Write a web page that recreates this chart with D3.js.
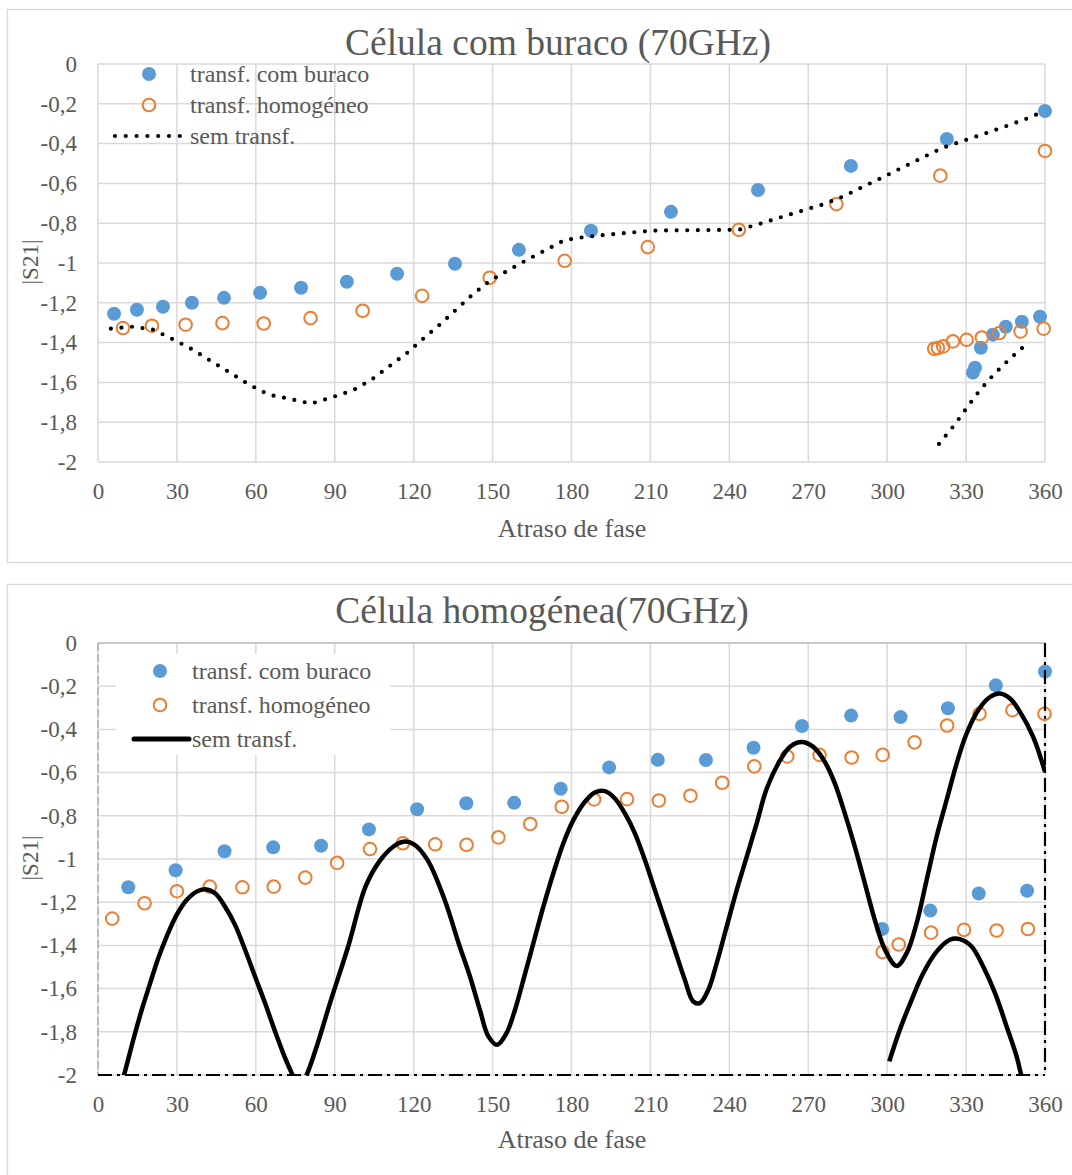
<!DOCTYPE html>
<html lang="pt">
<head>
<meta charset="UTF-8">
<title>|S21| vs atraso de fase</title>
<script src="https://cdn.jsdelivr.net/npm/d3@7"></script>
<style>
  body { margin: 0; background: #fff; }
  text { font-family: "Liberation Serif", "Times New Roman", serif; fill: #595959; }
</style>
</head>
<body>
<script>

// ---- eixos comuns
var xTicks = [0, 30, 60, 90, 120, 150, 180, 210, 240, 270, 300, 330, 360];
var yTicks = [0, -0.2, -0.4, -0.6, -0.8, -1, -1.2, -1.4, -1.6, -1.8, -2];
var seriesNames = ["transf. com buraco", "transf. homogéneo", "sem transf."];

// ---- Célula com buraco (70GHz)
var buracoBlueX = [6.1, 14.8, 24.7, 35.7, 47.9, 61.6, 77.2, 94.6, 113.7, 135.7, 160.0, 187.4, 217.8, 250.9, 286.2, 322.7, 360,
                   332.6, 333.4, 335.6, 340.2, 345.1, 351.2, 358.1];
var buracoBlueY = [-1.255, -1.235, -1.220, -1.200, -1.175, -1.150, -1.124, -1.094, -1.054, -1.004, -0.934, -0.838, -0.743, -0.633, -0.512, -0.377, -0.236,
                   -1.551, -1.526, -1.426, -1.360, -1.320, -1.295, -1.270];
var buracoOrangeX = [9.5, 20.5, 33.3, 47.3, 63.0, 80.8, 100.6, 123.2, 148.9, 177.4, 209.0, 243.6, 280.7, 320.2, 360,
                     317.9, 319.3, 321.3, 325.0, 330.2, 336.0, 342.6, 350.7, 359.5];
var buracoOrangeY = [-1.327, -1.315, -1.310, -1.302, -1.304, -1.277, -1.240, -1.165, -1.074, -0.989, -0.920, -0.833, -0.704, -0.561, -0.437,
                     -1.431, -1.427, -1.419, -1.394, -1.386, -1.374, -1.352, -1.344, -1.330];
var buracoLineX = [4.9, 13.2, 20.9, 28.9, 36.1, 43.3, 50.2, 57.4, 65.0, 73.0, 81.0, 88.9, 96.9, 103.8, 110.6, 117.5, 123.5, 130.0,
                   136.1, 142.2, 148.6, 155.8, 163.1, 177.5, 185.9, 198.4, 211.0, 243.6, 251.9, 259.6, 268.0, 276.0, 283.2,
                   290.8, 298.4, 305.6, 313.2, 320.8, 328.4, 336.4, 344.4, 352.0, 360];
var buracoLineY = [-1.330, -1.320, -1.335, -1.386, -1.436, -1.496, -1.551, -1.611, -1.662, -1.683, -1.707, -1.675, -1.640, -1.588, -1.520, -1.452, -1.382, -1.309,
                   -1.235, -1.161, -1.093, -1.038, -0.984, -0.884, -0.868, -0.852, -0.837, -0.833, -0.802, -0.770, -0.736, -0.704, -0.666,
                   -0.617, -0.569, -0.521, -0.472, -0.423, -0.388, -0.353, -0.316, -0.280, -0.236];
var buracoLine2X = [319.7, 325.4, 330.3, 335.3, 340.9, 347.0, 352.7];
var buracoLine2Y = [-1.909, -1.817, -1.727, -1.638, -1.555, -1.477, -1.411];

// ---- Célula homogénea (70GHz)
var homogBlueX = [11.5, 29.5, 48.1, 66.6, 84.8, 103.0, 121.3, 140.0, 158.2, 175.9, 194.3, 212.8, 231.1, 249.2, 267.6, 286.3, 305.1, 323.1, 341.3, 360,
                  298.1, 316.4, 334.8, 353.2];
var homogBlueY = [-1.131, -1.052, -0.964, -0.946, -0.939, -0.863, -0.770, -0.742, -0.740, -0.675, -0.576, -0.541, -0.542, -0.485, -0.384, -0.336, -0.343, -0.302, -0.196, -0.132,
                  -1.324, -1.239, -1.160, -1.147];
var homogOrangeX = [5.4, 17.7, 30.0, 42.5, 54.9, 66.8, 78.8, 90.9, 103.4, 115.9, 128.2, 140.1, 152.2, 164.3, 176.3, 188.6, 201.1, 213.2,
                    225.2, 237.3, 249.5, 262.0, 274.3, 286.5, 298.3, 310.4, 322.8, 335.1, 347.6, 359.8,
                    298.3, 304.4, 316.7, 329.2, 341.6, 353.5];
var homogOrangeY = [-1.276, -1.205, -1.149, -1.128, -1.131, -1.128, -1.086, -1.018, -0.954, -0.927, -0.932, -0.934, -0.900, -0.838, -0.758, -0.724, -0.723, -0.729,
                    -0.707, -0.647, -0.571, -0.525, -0.518, -0.530, -0.518, -0.460, -0.382, -0.328, -0.311, -0.328,
                    -1.431, -1.396, -1.341, -1.328, -1.331, -1.324];
var homogLineX = [7.5, 9.9, 13.4, 16.6, 19.8, 22.9, 26.1, 29.9, 33.7, 37.5, 40.7, 44.5, 48.3, 52.1, 55.9, 59.7, 63.5, 67.3, 71.1, 73.6, 76.5,
                  79.3, 83.1, 88.2, 95.1, 101.7, 106.9, 112.2, 116.1, 120.0, 125.3, 131.8, 137.1, 141.4, 145.2, 148.4, 151.8, 155.3,
                  158.5, 161.7, 165.5, 169.3, 173.1, 176.9, 180.7, 185.1, 188.9, 192.7, 196.5, 200.3, 204.1, 207.9, 211.7, 215.5,
                  219.3, 223.1, 226.3, 228.8, 232.0, 235.2, 239.0, 242.8, 246.6, 250.4, 254.2, 259.2, 263.0, 267.5, 271.9, 276.3,
                  280.1, 283.9, 287.7, 291.5, 295.3, 299.2, 303.6, 307.4, 311.2, 315.0, 318.8, 322.6, 326.4, 330.2, 334.6, 339.1,
                  342.8, 346.7, 350.5, 355.5, 360];
var homogLineY = [-2.1, -2.0, -1.838, -1.699, -1.576, -1.459, -1.359, -1.259, -1.190, -1.151, -1.140, -1.159, -1.221, -1.305, -1.420, -1.544, -1.667, -1.798, -1.921, -1.990, -2.06,
                  -2.0, -1.869, -1.667, -1.405, -1.128, -1.012, -0.943, -0.920, -0.931, -1.005, -1.190, -1.390, -1.544, -1.700, -1.821, -1.860, -1.806,
                  -1.699, -1.560, -1.390, -1.221, -1.066, -0.927, -0.820, -0.735, -0.692, -0.686, -0.720, -0.789, -0.881, -1.005, -1.144, -1.282,
                  -1.421, -1.560, -1.660, -1.667, -1.606, -1.482, -1.313, -1.144, -0.990, -0.835, -0.675, -0.545, -0.481, -0.458, -0.481, -0.550,
                  -0.650, -0.789, -0.943, -1.112, -1.282, -1.421, -1.495, -1.436, -1.297, -1.097, -0.897, -0.727, -0.558, -0.419, -0.311, -0.250,
                  -0.234, -0.257, -0.319, -0.435, -0.596];
var homogLine2X = [300.8, 304.8, 309.3, 313.7, 318.8, 323.8, 327.6, 332.1, 336.5, 341.0, 345.4, 349.2, 351.1, 352.5];
var homogLine2Y = [-1.937, -1.791, -1.652, -1.529, -1.429, -1.374, -1.371, -1.405, -1.498, -1.621, -1.775, -1.914, -2.006, -2.06];

function zip(xs, ys) {
    return xs.map(function (x, i) { return [x, ys[i]]; });
}

function fmt(v) {
    if (Math.abs(v) < 1e-9) return "0";
    return String(+v.toFixed(1)).replace(".", ",");
}

var W = 1072, H = 1175;
var blue = "#5B9BD5", orange = "#ED7D31";

var svg = d3.select("body").append("svg")
    .attr("width", W)
    .attr("height", H);

svg.append("rect").attr("width", W).attr("height", H).attr("fill", "#fff");

function drawChart(c) {
    var g = svg.append("g");

    // moldura do gráfico
    g.append("rect")
        .attr("x", 7.5).attr("y", c.boxY + 0.5)
        .attr("width", W + 20).attr("height", c.boxH)
        .attr("fill", "#fff").attr("stroke", "#d9d9d9").attr("stroke-width", 1.3);

    var x = d3.scaleLinear().domain([0, 360]).range([98, 1045]);
    var y = d3.scaleLinear().domain([-2, 0]).range([c.yBottom, c.yTop]);

    // grelha
    g.append("g").selectAll("line").data(xTicks).enter().append("line")
        .attr("x1", function (d) { return x(d); }).attr("x2", function (d) { return x(d); })
        .attr("y1", y(0)).attr("y2", y(-2))
        .attr("stroke", "#d9d9d9").attr("stroke-width", 1.5);
    g.append("g").selectAll("line").data(yTicks).enter().append("line")
        .attr("x1", x(0)).attr("x2", x(360))
        .attr("y1", function (d) { return y(d); }).attr("y2", function (d) { return y(d); })
        .attr("stroke", "#d9d9d9").attr("stroke-width", 1.5);

    if (c.dashBorder) {
        g.append("line").attr("x1", x(0)).attr("x2", x(360)).attr("y1", y(0)).attr("y2", y(0))
            .attr("stroke", "#bfbfbf").attr("stroke-width", 1.5);
        g.append("line").attr("x1", x(0)).attr("x2", x(0)).attr("y1", y(0)).attr("y2", y(-2))
            .attr("stroke", "#a6a6a6").attr("stroke-width", 1.3).attr("stroke-dasharray", "8 3");
    }

    // eixos
    var yAxis = g.append("g").attr("transform", "translate(" + x(0) + ",0)")
        .call(d3.axisLeft(y).tickValues(yTicks).tickFormat(fmt).tickSize(0).tickPadding(21));
    var xAxis = g.append("g").attr("transform", "translate(0," + y(-2) + ")")
        .call(d3.axisBottom(x).tickValues(xTicks).tickFormat(d3.format("d")).tickSize(0).tickPadding(21));
    [yAxis, xAxis].forEach(function (a) {
        a.select(".domain").remove();
        a.attr("font-family", null).attr("font-size", null);
        a.selectAll("text").attr("font-size", "23px").style("fill", "#595959");
    });

    // títulos
    g.append("text").attr("x", c.titleX).attr("y", c.titleY)
        .attr("text-anchor", "middle").attr("font-size", "37.5px").text(c.title);
    g.append("text").attr("x", 572).attr("y", c.xTitleY)
        .attr("text-anchor", "middle").attr("font-size", "26px").text("Atraso de fase");
    g.append("text")
        .attr("transform", "translate(38," + c.yTitleY + ") rotate(-90)")
        .attr("text-anchor", "middle").attr("font-size", "23px").text("|S21|");

    // legenda
    var lg = g.append("g");
    if (c.legendBox) {
        lg.append("rect").attr("x", c.legendBox[0]).attr("y", c.legendBox[1])
            .attr("width", c.legendBox[2]).attr("height", c.legendBox[3]).attr("fill", "#fff");
    }
    lg.append("circle").attr("cx", c.legMarkX).attr("cy", c.legRows[0]).attr("r", 7).attr("fill", blue);
    lg.append("circle").attr("cx", c.legMarkX).attr("cy", c.legRows[1]).attr("r", 6.3)
        .attr("fill", "none").attr("stroke", orange).attr("stroke-width", 2);
    var ll = lg.append("line").attr("x1", c.legLine[0]).attr("x2", c.legLine[1])
        .attr("y1", c.legRows[2]).attr("y2", c.legRows[2]).attr("stroke", "#000");
    if (c.dotted) {
        ll.attr("stroke-width", 4.2).attr("stroke-dasharray", "0 10.8").attr("stroke-linecap", "round");
    } else {
        ll.attr("stroke-width", 5).attr("stroke-linecap", "round");
    }
    lg.selectAll("text.leg").data(seriesNames).enter().append("text")
        .attr("class", "leg")
        .attr("x", c.legTextX)
        .attr("y", function (d, i) { return c.legRows[i] + 8; })
        .attr("font-size", "24px")
        .text(function (d) { return d; });

    // clip da área do gráfico
    var clipId = "clip" + c.id;
    svg.append("clipPath").attr("id", clipId).append("rect")
        .attr("x", x(0)).attr("y", y(0)).attr("width", x(360) - x(0) + 1).attr("height", y(-2) - y(0));

    // séries de marcadores
    g.append("g").selectAll("circle").data(zip(c.blueX, c.blueY)).enter().append("circle")
        .attr("cx", function (d) { return x(d[0]); })
        .attr("cy", function (d) { return y(d[1]); })
        .attr("r", 7).attr("fill", blue);
    g.append("g").selectAll("circle").data(zip(c.orangeX, c.orangeY)).enter().append("circle")
        .attr("cx", function (d) { return x(d[0]); })
        .attr("cy", function (d) { return y(d[1]); })
        .attr("r", 6.3).attr("fill", "none").attr("stroke", orange).attr("stroke-width", 2);

    // sem transf.
    var line = d3.line()
        .x(function (d) { return x(d[0]); })
        .y(function (d) { return y(d[1]); })
        .curve(c.dotted ? d3.curveLinear : d3.curveCatmullRom.alpha(0.5));
    var lines = g.append("g").attr("clip-path", "url(#" + clipId + ")");
    c.lines.forEach(function (pts) {
        var p = lines.append("path").datum(pts).attr("d", line)
            .attr("fill", "none").attr("stroke", "#000");
        if (c.dotted) {
            p.attr("stroke-width", 4.2).attr("stroke-dasharray", "0 10.6").attr("stroke-linecap", "round");
        } else {
            p.attr("stroke-width", 4.5).attr("stroke-linejoin", "round");
        }
    });

    if (c.dashBorder) {
        g.append("line").attr("x1", x(0)).attr("x2", x(360)).attr("y1", y(-2)).attr("y2", y(-2))
            .attr("stroke", "#000").attr("stroke-width", 2.2).attr("stroke-dasharray", "14 5 3 5");
        g.append("line").attr("x1", x(360)).attr("x2", x(360)).attr("y1", y(0)).attr("y2", y(-2))
            .attr("stroke", "#000").attr("stroke-width", 2.2).attr("stroke-dasharray", "14 5 3 5");
    }
}

drawChart({
    id: 1, boxY: 9, boxH: 553,
    yTop: 64, yBottom: 462,
    title: "Célula com buraco (70GHz)", titleX: 558, titleY: 55,
    xTitleY: 537, yTitleY: 262,
    legMarkX: 149, legTextX: 190, legRows: [74, 105, 136], legLine: [115, 183],
    dotted: true, dashBorder: false,
    blueX: buracoBlueX, blueY: buracoBlueY,
    orangeX: buracoOrangeX, orangeY: buracoOrangeY,
    lines: [zip(buracoLineX, buracoLineY), zip(buracoLine2X, buracoLine2Y)]
});

drawChart({
    id: 2, boxY: 584, boxH: 620,
    yTop: 643, yBottom: 1075,
    title: "Célula homogénea(70GHz)", titleX: 542, titleY: 623,
    xTitleY: 1148, yTitleY: 858,
    legMarkX: 160, legTextX: 192, legRows: [671, 705, 739], legLine: [134, 189],
    legendBox: [116, 654, 274, 101],
    dotted: false, dashBorder: true,
    blueX: homogBlueX, blueY: homogBlueY,
    orangeX: homogOrangeX, orangeY: homogOrangeY,
    lines: [zip(homogLineX, homogLineY), zip(homogLine2X, homogLine2Y)]
});

</script>
</body>
</html>
